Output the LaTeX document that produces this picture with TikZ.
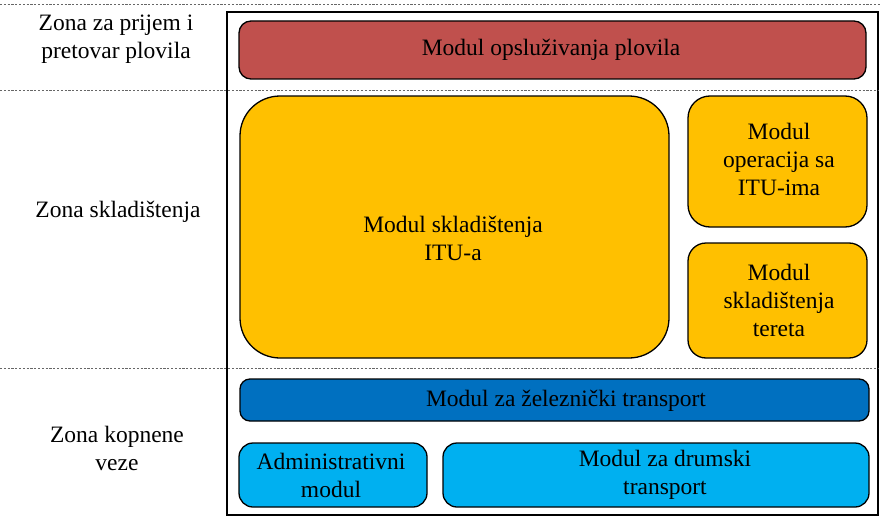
\documentclass[tikz,border=0pt]{standalone}
\usepackage{fontspec}
\setmainfont{Liberation Serif}
\definecolor{cred}{HTML}{C0504D}
\definecolor{cyel}{HTML}{FFC000}
\definecolor{cdblue}{HTML}{0070C0}
\definecolor{clblue}{HTML}{00B0F0}
\begin{document}
\begin{tikzpicture}[x=1pt,y=-1pt,
  modbox/.style={draw=black,line width=1.3pt,rounded corners=#1},
  modbox/.default=12pt,
  txt/.style={inner sep=0pt,align=center,font=\fontsize{23.5}{28}\selectfont},
  zoneline/.style={draw=gray!80!black,line width=0.9pt,dash pattern=on 2.2pt off 1.6pt}]
\useasboundingbox (0,0) rectangle (881,519);
% frame
\draw[line width=1.8pt] (227,12) rectangle (878,515);
% dotted zone separators
\draw[zoneline] (0,4) -- (881,4);
\draw[zoneline] (0,90) -- (878,90);
\draw[zoneline] (0,368) -- (878,368);
% modules
\filldraw[modbox,fill=cred] (239,21) rectangle (866,79);
\filldraw[modbox=40pt,fill=cyel] (240,96) rectangle (669,358);
\filldraw[modbox=22pt,fill=cyel] (688,96) rectangle (867,227);
\filldraw[modbox=18pt,fill=cyel] (688,243) rectangle (867,358);
\filldraw[modbox=10pt,fill=cdblue] (240,379) rectangle (869,421);
\filldraw[modbox=14pt,fill=clblue] (239,443) rectangle (427,507);
\filldraw[modbox=14pt,fill=clblue] (443,443) rectangle (869,507);
% module texts
\node[txt] (t1) at (551,50) {Modul opsluživanja plovila};
\node[txt] (t2) at (453,238) {Modul skladištenja\\ITU-a};
\node[txt] (t3) at (779,159) {Modul\\operacija sa\\ITU-ima};
\node[txt] (t4) at (779,300) {Modul\\skladištenja\\tereta};
\node[txt] (t5) at (566,401) {Modul za železnički transport};
\node[txt] (t6) at (331,475) {Administrativni\\modul};
\node[txt] (t7) at (665,475) {Modul za drumski\\transport};
% zone labels
\node[txt] (z1) at (116,39) {Zona za prijem i\\pretovar plovila};
\node[txt] (z2) at (118,212) {Zona skladištenja};
\node[txt] (z3) at (117,448) {Zona kopnene\\veze};
\end{tikzpicture}
\end{document}
